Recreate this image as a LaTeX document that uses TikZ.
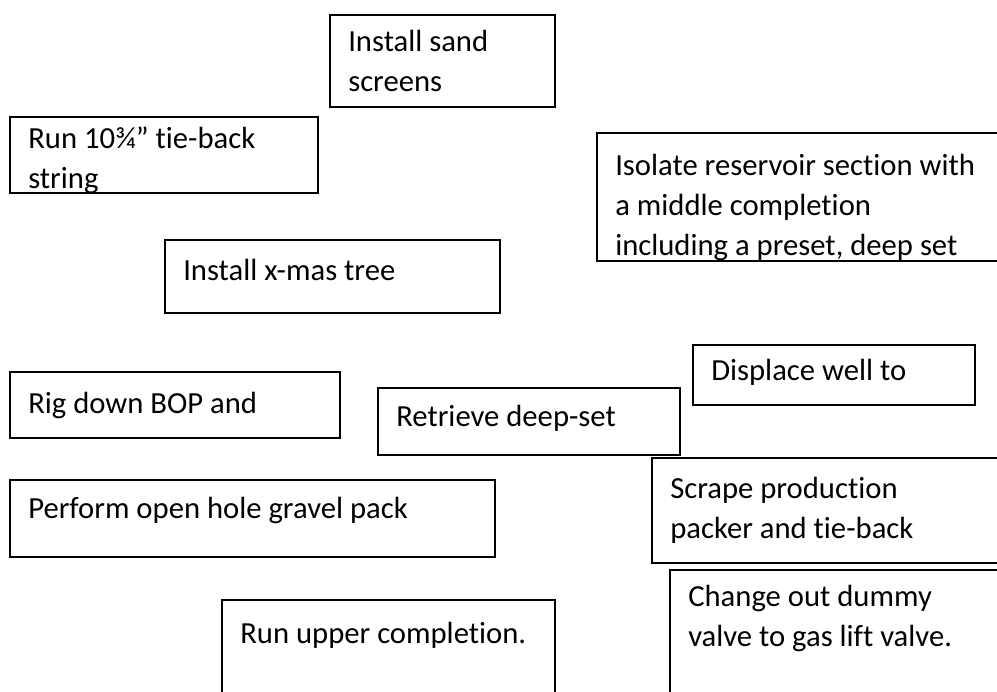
\documentclass[tikz,border=0pt]{standalone}
\usepackage{fontspec}
\setmainfont{Carlito}[Ligatures={NoCommon}]
\usetikzlibrary{calc}

% one unit = one pixel of a 997 x 692 sheet, y grows downwards
\tikzset{
  procframe/.style={draw=black, line width=1.4pt, rectangle, anchor=north west,
    inner sep=0pt, outer sep=0pt},
  proctext/.style={anchor=north west, inner sep=0pt, align=left,
    font=\fontsize{23pt}{30pt}\selectfont, text=black},
}

% #1 name, #2 left, #3 top, #4 right, #5 bottom, #6 first baseline, #7 text
\newcommand{\procbox}[7]{%
  \node[procframe, minimum width={(#4-#2)*0.75pt}, minimum height={(#5-#3)*0.75pt}]
    (#1) at (#2,#3) {};
  \begin{scope}
    \clip (#1.north west) rectangle (#1.south east);
    \node[proctext] (#1-t) at ($(#1.north west)+(18,#6-#3-28)$) {\strut #7};
  \end{scope}
}

\begin{document}
\begin{tikzpicture}[x=0.75pt, y=-0.75pt]
  \useasboundingbox (0,0) rectangle (997,692);

  \procbox{sand}{330}{15}{555}{107}{51}{Install sand\\screens}
  \procbox{tieback}{10}{117}{318}{193}{148}{Run 10¾” tie-back\\string}
  \procbox{isolate}{597}{133}{1010}{261}{175}{Isolate reservoir section with\\a middle completion\\including a preset, deep set}
  \procbox{xmas}{165}{240}{500}{313}{280}{Install x-mas tree}
  \procbox{rigdown}{10}{372}{340}{438}{413}{Rig down BOP and}
  \procbox{retrieve}{378}{388}{680}{455}{426}{Retrieve deep-set}
  \procbox{displace}{693}{345}{975}{405}{380}{Displace well to}
  \procbox{gravel}{10}{480}{495}{557}{518}{Perform open hole gravel pack}
  \procbox{scrape}{652}{458}{1010}{563}{498}{Scrape production\\packer and tie-back}
  \procbox{upper}{222}{600}{555}{710}{643}{Run upper completion.}
  \procbox{gaslift}{670}{570}{1010}{710}{606}{Change out dummy\\valve to gas lift valve.}
\end{tikzpicture}
\end{document}
